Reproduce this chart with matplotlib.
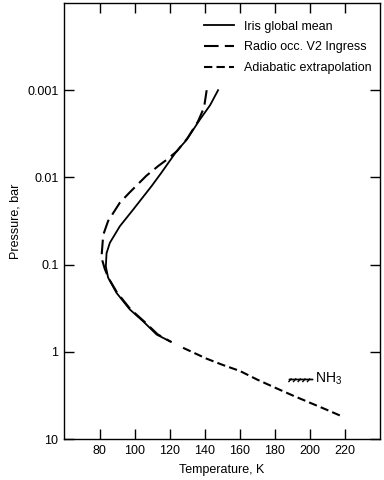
import matplotlib
matplotlib.use("Agg")
import matplotlib.pyplot as plt
import matplotlib.patheffects as pe

plt.rcParams['font.family'] = ['Liberation Sans', 'DejaVu Sans']
plt.rcParams['font.size'] = 9

# Iris global mean (solid)
iris_T = [147.5, 143, 137, 129.5, 123.8, 115, 109.5, 99, 91.4, 85.7, 83.8, 83.4,
          84.7, 89.5, 97.1, 104.7, 112.4, 120]
iris_P = [0.001, 0.00148, 0.00219, 0.00372, 0.00501, 0.00891, 0.0126, 0.0234,
          0.0363, 0.0562, 0.0741, 0.105, 0.141, 0.211, 0.327, 0.447, 0.634, 0.759]

# Radio occultation, Voyager 2 ingress (long dashes)
radio_T = [141, 139.5, 136, 130, 124, 118, 113.3, 106.6, 97.1, 91.4, 84.7, 81.9,
           80.9, 82.8, 84.8, 89.8, 97.4, 105.2, 113, 121]
radio_P = [0.001, 0.00158, 0.00229, 0.00355, 0.00501, 0.00631, 0.00741, 0.00955,
           0.0148, 0.0195, 0.0316, 0.0457, 0.0832, 0.112, 0.141, 0.209, 0.324,
           0.447, 0.631, 0.776]

# adiabatic extrapolation (short dashes)
adia_T = [127.5, 141, 150, 160, 170, 181, 190, 200, 209, 218]
adia_P = [0.90, 1.20, 1.41, 1.66, 2.09, 2.63, 3.16, 3.84, 4.57, 5.47]

# NH3 condensation level marker
nh3_T = [201, 188]
nh3_P = [2.05, 2.05]

x_ticks = [80, 100, 120, 140, 160, 180, 200, 220]
y_ticks = [0.001, 0.01, 0.1, 1, 10]
y_labels = ['0.001', '0.01', '0.1', '1', '10']

fig = plt.figure(figsize=(3.84, 4.8), dpi=100)
ax = fig.add_axes([64 / 384, 41 / 480, 316 / 384, 436 / 480])

ax.plot(iris_T, iris_P, color='black', lw=1.3, label='Iris global mean')
ax.plot(radio_T, radio_P, color='black', lw=1.5, dashes=(7, 3),
        label='Radio occ. V2 Ingress')
ax.plot(adia_T, adia_P, color='black', lw=1.5, dashes=(4, 2),
        label='Adiabatic extrapolation')

ax.plot(nh3_T, nh3_P, color='black', lw=1.0,
        path_effects=[pe.withTickedStroke(spacing=3, angle=50, length=0.8), pe.Normal()])
ax.text(203, 2.05, 'NH$_{\\mathregular{3}}$', va='center', ha='left', fontsize=10)

ax.set_yscale('log')
ax.set_xlim(59.5, 240)
ax.set_ylim(10, 1e-4)
ax.set_xticks(x_ticks)
ax.set_yticks(y_ticks)
ax.set_yticklabels(y_labels)
ax.minorticks_off()
ax.tick_params(direction='in', length=7, width=1, top=True, right=True, pad=4)
ax.tick_params(axis='x', labeltop=False)
ax.tick_params(axis='y', labelright=False)
for s in ax.spines.values():
    s.set_linewidth(1.0)

ax.set_xlabel('Temperature, K', labelpad=5)
ax.set_ylabel('Pressure, bar', labelpad=4)

ax.legend(loc='upper left', bbox_to_anchor=(0.424, 0.9735), frameon=False,
          handlelength=2.4, handletextpad=0.8, labelspacing=0.69, borderpad=0)

fig.savefig('out.png', dpi=100)
